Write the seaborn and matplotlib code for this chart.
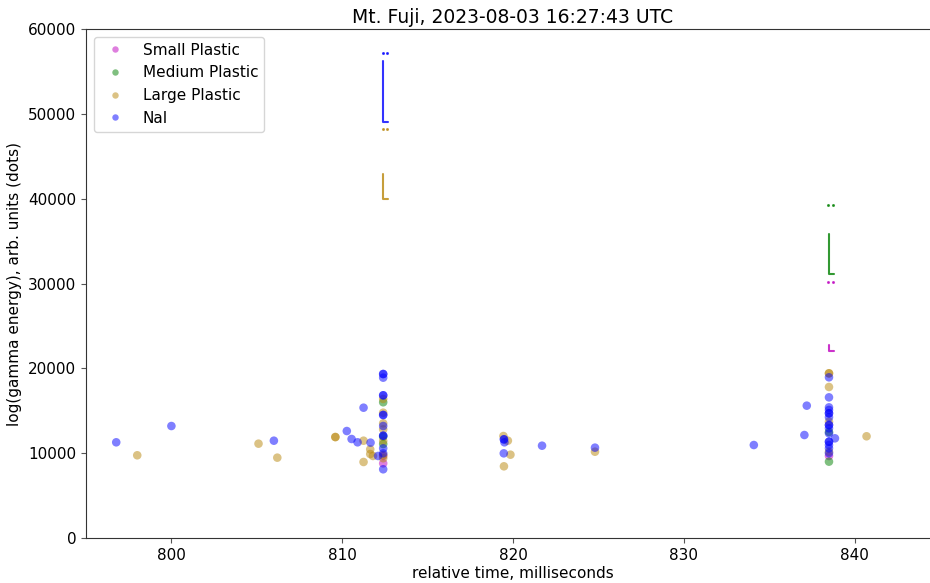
import pandas as pd
import seaborn as sns
import matplotlib
matplotlib.use("Agg")
import matplotlib.pyplot as plt

# detector hits: time (ms) and energy (arb. units)
small_t = [812.4, 812.4, 838.5]
small_e = [9670, 8800, 9670]

medium_t = [812.4, 812.4, 812.4, 838.5, 838.5]
medium_e = [16000, 11940, 11080, 9000, 12500]

large_t = [798.0, 805.1, 806.2, 809.6, 809.6, 811.25, 811.25, 811.64, 811.64, 811.8,
           812.4, 812.4, 812.4, 812.4, 812.4, 812.4, 812.4,
           819.44, 819.7, 819.85, 819.47, 824.8,
           838.5, 838.5, 838.5, 838.5, 838.5, 840.7]
large_e = [9750, 11120, 9470, 11900, 11900, 11470, 8960, 10450, 9900, 9670,
           16390, 14770, 13520, 12810, 11430, 9780, 9400,
           12020, 11470, 9820, 8450, 10170,
           19410, 19410, 17800, 13710, 10170, 11990]

nai_t = [796.77, 800.0, 806.0, 810.27, 810.55, 810.9, 811.25, 811.66, 812.1,
         812.4, 812.4, 812.4, 812.4, 812.4, 812.4, 812.4, 812.4, 812.4, 812.4,
         812.4, 812.4, 812.4,
         819.47, 819.47, 819.5, 819.46, 821.7, 824.8, 834.1, 837.2, 837.06, 838.85,
         838.5, 838.5, 838.5, 838.5, 838.5, 838.5, 838.5, 838.5, 838.5, 838.5,
         838.5, 838.5, 838.5, 838.5, 838.5, 838.5]
nai_e = [11280, 13200, 11470, 12610, 11670, 11280, 15360, 11240, 9670,
         19330, 19330, 18900, 16820, 16820, 14500, 14500, 13200, 12060, 12060,
         10570, 9980, 8100,
         11630, 11630, 11280, 9980, 10880, 10650, 10960, 15600, 12140, 11750,
         18940, 16580, 15400, 15090, 14700, 14700, 14230, 13320, 13320, 12930,
         12340, 11350, 11350, 10960, 10570, 10000]

# short waveform traces drawn above the dots
blue_trace_t = [812.36, 812.36, 812.36, 812.67]
blue_trace_e = [56200, 52000, 49080, 49080]
blue_dots_t = [812.36, 812.64]
blue_dots_e = [57200, 57200]

gold_trace_t = [812.36, 812.36, 812.67]
gold_trace_e = [42900, 39960, 39960]
gold_dots_t = [812.36, 812.64]
gold_dots_e = [48170, 48170]

green_trace_t = [838.52, 838.52, 838.77]
green_trace_e = [35800, 31120, 31120]
green_dots_t = [838.46, 838.73]
green_dots_e = [39220, 39220]

mag_trace_t = [838.52, 838.52, 838.77]
mag_trace_e = [22720, 22010, 22010]
mag_dots_t = [838.46, 838.73]
mag_dots_e = [30210, 30210]

labels = ["Small Plastic", "Medium Plastic", "Large Plastic", "NaI"]
colors = ["m", "g", "darkgoldenrod", "b"]

df = pd.concat([
    pd.DataFrame({"t": small_t, "e": small_e, "det": labels[0]}),
    pd.DataFrame({"t": medium_t, "e": medium_e, "det": labels[1]}),
    pd.DataFrame({"t": large_t, "e": large_e, "det": labels[2]}),
    pd.DataFrame({"t": nai_t, "e": nai_e, "det": labels[3]}),
], ignore_index=True)

sns.set_style("ticks", {"text.color": "black", "xtick.color": "#555555",
                        "ytick.color": "#555555", "axes.labelcolor": "black",
                        "axes.edgecolor": "#333333"})
plt.rcParams['font.family'] = ['DejaVu Sans']

fig = plt.figure(figsize=(9.3, 5.83), dpi=100)
ax = fig.add_axes([86/930, 45/583, 854/930, 509/583])

sns.scatterplot(data=df, x="t", y="e", hue="det", hue_order=labels,
                palette=dict(zip(labels, colors)), alpha=0.5, s=38,
                linewidth=0, ax=ax)

ax.plot(blue_trace_t, blue_trace_e, color="b", lw=1.5, alpha=0.8)
ax.plot(blue_dots_t, blue_dots_e, ls="none", marker="o", ms=1.2, color="b", alpha=0.7)
ax.plot(gold_trace_t, gold_trace_e, color="darkgoldenrod", lw=1.5, alpha=0.8)
ax.plot(gold_dots_t, gold_dots_e, ls="none", marker="o", ms=1.2, color="darkgoldenrod", alpha=0.7)
ax.plot(green_trace_t, green_trace_e, color="g", lw=1.5, alpha=0.8)
ax.plot(green_dots_t, green_dots_e, ls="none", marker="o", ms=1.2, color="g", alpha=0.7)
ax.plot(mag_trace_t, mag_trace_e, color="m", lw=1.5, alpha=0.8)
ax.plot(mag_dots_t, mag_dots_e, ls="none", marker="o", ms=1.2, color="m", alpha=0.7)

ax.set_xlim(795.0, 845.0)
ax.set_ylim(0, 60000)
ax.set_xticks([800, 810, 820, 830, 840])
ax.set_yticks(range(0, 60001, 10000))
ax.tick_params(labelsize=11, labelcolor="black")
ax.set_xlabel("relative time, milliseconds", fontsize=11, labelpad=2)
ax.set_ylabel("log(gamma energy), arb. units (dots)", fontsize=11)
ax.set_title("Mt. Fuji, 2023-08-03 16:27:43 UTC", fontsize=13.5, pad=4, color="black")
for sp in ax.spines.values():
    sp.set_visible(True)

leg = ax.legend(loc="upper left", fontsize=11, markerscale=0.75, borderaxespad=0.5)
for txt in leg.get_texts():
    txt.set_color("black")

fig.savefig("out.png", dpi=100)
